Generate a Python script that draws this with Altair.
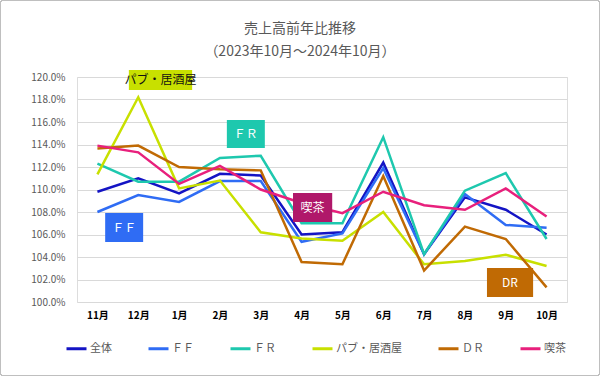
import altair as alt
import pandas as pd

title_text = "売上高前年比推移"
subtitle_text = "（2023年10月～2024年10月）"

months = ["11月", "12月", "1月", "2月", "3月", "4月", "5月", "6月", "7月", "8月", "9月", "10月"]
series_names = ["全体", "ＦＦ", "ＦＲ", "パブ・居酒屋", "ＤＲ", "喫茶"]
series_colors = ["#1414c4", "#2f6cf4", "#1ec8ae", "#c8e000", "#c06a04", "#e8207c"]

zentai = [109.8, 111.0, 109.65, 111.4, 111.25, 106.0, 106.2, 112.4, 104.25, 109.3, 108.2, 106.0]
ff = [108.0, 109.5, 108.9, 110.75, 110.75, 105.35, 106.1, 111.9, 104.25, 109.6, 106.85, 106.6]
fr = [112.3, 110.7, 110.7, 112.8, 113.0, 107.0, 107.0, 114.65, 104.25, 109.9, 111.45, 105.6]
pub = [111.35, 118.2, 110.1, 110.8, 106.2, 105.65, 105.45, 108.0, 103.35, 103.65, 104.2, 103.2]
dr = [113.64, 113.9, 112.0, 111.8, 111.7, 103.55, 103.35, 111.2, 102.8, 106.7, 105.6, 101.3]
kissa = [113.9, 113.3, 110.5, 112.1, 110.0, 108.8, 107.9, 109.8, 108.6, 108.2, 110.1, 107.6]

# annotation call-out boxes (label, month-index span, value span, box colour, text colour)
ann_labels = ["パブ・居酒屋", "ＦＦ", "ＦＲ", "喫茶", "DR"]
ann_x = [0.77, 0.19, 3.17, 4.79, 9.54]
ann_x2 = [2.32, 1.12, 4.10, 5.75, 10.67]
ann_y = [120.62, 107.91, 116.18, 109.69, 103.02]
ann_y2 = [118.84, 105.33, 113.69, 107.11, 100.44]
ann_fill = ["#c8e000", "#2f6cf4", "#1ec8ae", "#b0186a", "#c06a04"]
ann_text = ["#111111", "#ffffff", "#ffffff", "#ffffff", "#ffffff"]

all_series = [zentai, ff, fr, pub, dr, kissa]
rows = []
for name, vals in zip(series_names, all_series):
    for i, v in enumerate(vals):
        rows.append({"idx": i, "month": months[i], "series": name, "value": v})
df = pd.DataFrame(rows)

ann = pd.DataFrame({
    "label": ann_labels,
    "x": ann_x, "x2": ann_x2, "y": ann_y, "y2": ann_y2,
    "fill": ann_fill, "tcolor": ann_text,
})
ann["xm"] = (ann["x"] + ann["x2"]) / 2
ann["ym"] = (ann["y"] + ann["y2"]) / 2

FONT = "Noto Sans CJK JP"
month_expr = "[" + ",".join("'" + m + "'" for m in months) + "][datum.value]"

x_scale = alt.Scale(domain=[-0.5, 11.5], nice=False, zero=False)
y_scale = alt.Scale(domain=[100, 120], nice=False, zero=False)
x_axis = alt.Axis(tickCount=12, labelExpr=month_expr, title=None,
                  grid=False, domain=False, ticks=False, labelPadding=8,
                  labelFontWeight="bold", labelColor="#000000", labelFontSize=10,
                  labelFont=FONT, labelOverlap=False)
y_axis = alt.Axis(tickCount=10, labelExpr="format(datum.value, '.1f') + '%'",
                  title=None, domain=False, ticks=False, labelPadding=12,
                  gridColor="#d9d9d9", labelColor="#595959", labelFontSize=10,
                  labelFont=FONT, labelOverlap=False)

lines = alt.Chart(df).mark_line(strokeWidth=2.5, clip=False).encode(
    x=alt.X("idx:Q", scale=x_scale, axis=x_axis),
    y=alt.Y("value:Q", scale=y_scale, axis=y_axis),
    color=alt.Color("series:N", scale=alt.Scale(domain=series_names, range=series_colors),
                    sort=series_names,
                    legend=alt.Legend(title=None, orient="none", direction="horizontal",
                                      legendX=-12, legendY=260, symbolType="stroke",
                                      symbolSize=400, symbolStrokeWidth=3, labelOffset=2,
                                      columns=6, columnPadding=30, gridAlign="each",
                                      labelFontSize=11,
                                      labelColor="#595959", labelFont=FONT)),
    order=alt.Order("idx:Q"),
)

boxes = alt.Chart(ann).mark_rect(clip=False).encode(
    x=alt.X("x:Q", scale=x_scale, axis=x_axis), x2="x2",
    y=alt.Y("y:Q", scale=y_scale, axis=y_axis), y2="y2",
    fill=alt.Fill("fill:N", scale=None),
)
labels = alt.Chart(ann).mark_text(fontSize=12, font=FONT, clip=False).encode(
    x=alt.X("xm:Q", scale=x_scale, axis=x_axis),
    y=alt.Y("ym:Q", scale=y_scale, axis=y_axis),
    text="label:N",
    color=alt.Color("tcolor:N", scale=None),
)

title_df = pd.DataFrame({"t": [title_text, subtitle_text], "row": [0, 1]})
title_mark = alt.Chart(title_df).transform_filter("datum.row == 0").mark_text(
    fontSize=14, font=FONT, color="#595959").encode(
    x=alt.value(223), y=alt.value(-48), text="t:N")
subtitle_mark = alt.Chart(title_df).transform_filter("datum.row == 1").mark_text(
    fontSize=14, font=FONT, color="#595959").encode(
    x=alt.value(223), y=alt.value(-25), text="t:N")

frame = alt.Chart(ann).mark_rect(fill=None, stroke="#bfbfbf", strokeWidth=1,
                                  cornerRadius=2).encode(
    x=alt.value(-76.5), x2=alt.value(522.5), y=alt.value(-76.5), y2=alt.value(298.5)
)

chart = alt.layer(lines, boxes, labels, title_mark, subtitle_mark, frame).properties(
    width=490, height=225,
    padding={"left": 77, "top": 77, "right": 33, "bottom": 74},
    autosize=alt.AutoSizeParams(type="none"),
).configure_view(stroke=None).configure(background="#ffffff")

chart.save("out.html", embed_options={"renderer": "svg", "actions": False})
